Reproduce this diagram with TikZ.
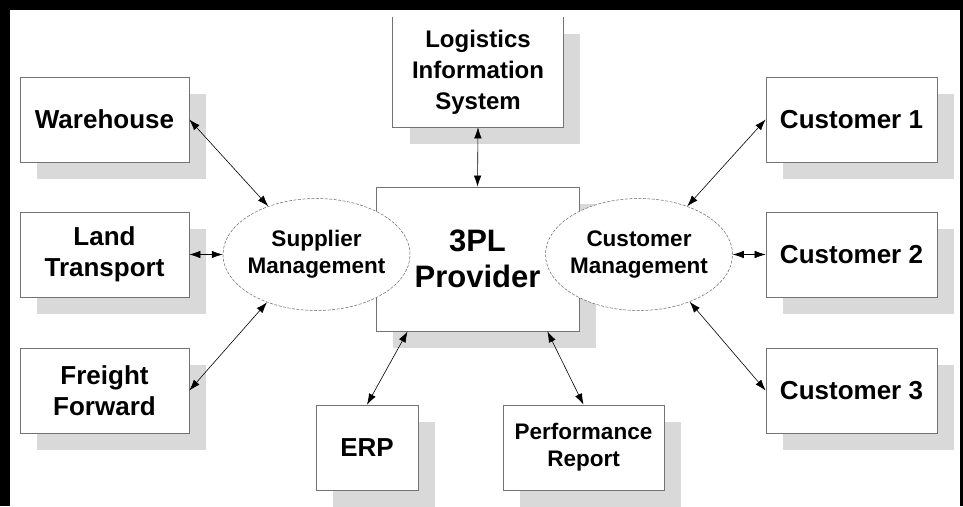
\documentclass[tikz,border=0pt]{standalone}
\usepackage{fontspec}
\setmainfont{Liberation Sans}
\usetikzlibrary{shapes.geometric,arrows.meta,shadows}
\tikzset{
  boxline/.style={draw=black!55, line width=0.7pt},
  box/.style={boxline, fill=white, align=center, inner sep=0pt,
    font=\bfseries\fontsize{26}{30.5}\selectfont,
    minimum width=169pt, minimum height=85pt,
    general shadow={fill=black!15, shadow xshift=17pt, shadow yshift=-17pt}},
  ell/.style={ellipse, draw=black!60, line width=0.5pt, dash pattern=on 3pt off 1.5pt,
    fill=white, minimum width=187pt, minimum height=112pt, inner sep=0pt},
  elltext/.style={align=center, font=\bfseries\fontsize{22.5}{27}\selectfont},
  arr/.style={{Latex[length=11pt,width=7.5pt]}-{Latex[length=11pt,width=7.5pt]}, line width=0.6pt, black}
}
\begin{document}
\begin{tikzpicture}[x=1pt,y=-1pt]
\useasboundingbox (0,0) rectangle (963,506);
\fill[black] (0,0) rectangle (963,506);
\fill[white] (10,10) rectangle (960,506);

% left boxes
\node[box] (wh) at (104.5,119.5) {Warehouse};
\node[box] (land) at (104.5,254.5) {Land\\Transport};
\node[box] (ff) at (104.5,390.5) {Freight\\Forward};

% right boxes
\node[box, minimum width=171pt] (c1) at (851.5,119.5) {Customer 1};
\node[box, minimum width=171pt] (c2) at (851.5,254.5) {Customer 2};
\node[box, minimum width=171pt] (c3) at (851.5,390.5) {Customer 3};

% top box (open top)
\node[box, draw=none, minimum width=170pt, minimum height=110pt,
  font=\bfseries\fontsize{24}{31}\selectfont] (lis) at (478,72) {Logistics\\Information\\System};
\draw[boxline] (lis.north west) -- (lis.south west) -- (lis.south east) -- (lis.north east);

% centre box
\node[box, minimum width=203pt, minimum height=144pt,
  font=\bfseries\fontsize{31}{36}\selectfont] (pl) at (477.5,259) {3PL\\Provider};

% bottom boxes
\node[box, minimum width=102pt] (erp) at (367,447.5) {ERP};
\node[box, minimum width=161pt, font=\bfseries\fontsize{22.5}{27}\selectfont] (pr) at (583.5,447.5) {Performance\\Report};

% ellipses
\node[ell, label={[elltext]center:{Supplier\\Management}}] (sm) at (316.5,254.5) {};
\node[ell, label={[elltext]center:{Customer\\Management}}] (cm) at (639,254.5) {};

% connectors
\draw[arr] (wh.east) -- (sm.135);
\draw[arr] (land.east) -- (sm.west);
\draw[arr] (ff.east) -- (sm.224);
\draw[arr] (c1.west) -- (cm.45);
\draw[arr] (c2.west) -- (cm.east);
\draw[arr] (c3.west) -- (cm.-43);
\draw[arr] (lis.south) -- (pl.north);
\draw[arr] (erp.north) -- (pl.226.4);
\draw[arr] (pr.north) -- (pl.-46);
\end{tikzpicture}
\end{document}
